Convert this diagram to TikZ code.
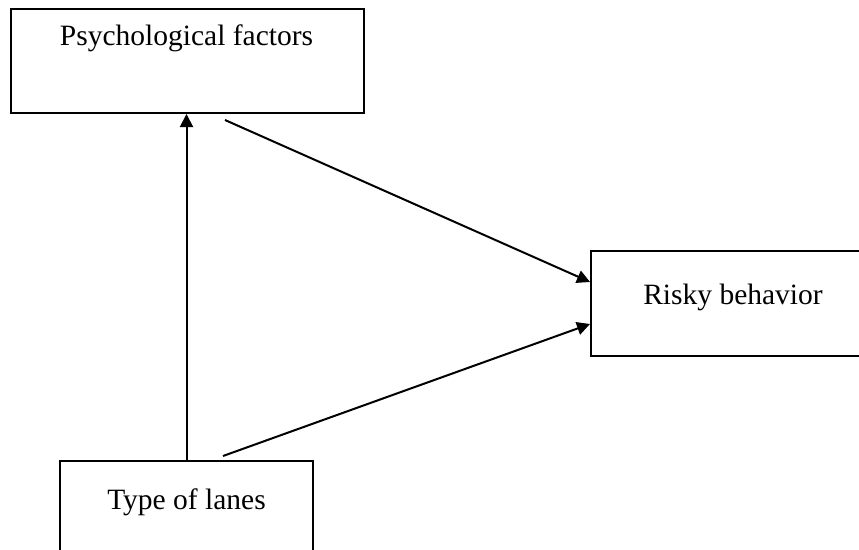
\documentclass[tikz,border=0pt]{standalone}
\usepackage{fontspec}
\setmainfont{Liberation Serif}
\usetikzlibrary{arrows.meta}
\begin{document}
\begin{tikzpicture}[x=1pt,y=-1pt,
  box/.style={draw=black, line width=2pt, rectangle, inner sep=0pt},
  lbl/.style={font=\fontsize{29.5}{34}\selectfont, inner sep=0pt},
  arr/.style={line width=2pt, -{Triangle[length=13pt,width=13pt]}}]
\useasboundingbox (0,0) rectangle (859,549);
\clip (0,0) rectangle (859,549);
\node[box, minimum width=353pt, minimum height=104pt] (psych) at (187.5,61) {};
\node[lbl] (psychT) at (186.5,38) {Psychological factors};
\node[box, minimum width=284pt, minimum height=105pt] (risky) at (733,303.5) {};
\node[lbl] (riskyT) at (733,297) {Risky behavior};
\node[box, minimum width=253pt, minimum height=105pt] (lanes) at (186.5,513.5) {};
\node[lbl] (lanesT) at (186.5,502) {Type of lanes};
\draw[arr] (lanes.north) -- (lanes.north |- psych.south);
\draw[arr] ([xshift=37.5pt,yshift=-6pt]psych.south) -- ([yshift=21.5pt]risky.west);
\draw[arr] ([xshift=36.5pt,yshift=4pt]lanes.north) -- ([yshift=-20.5pt]risky.west);
\end{tikzpicture}
\end{document}
